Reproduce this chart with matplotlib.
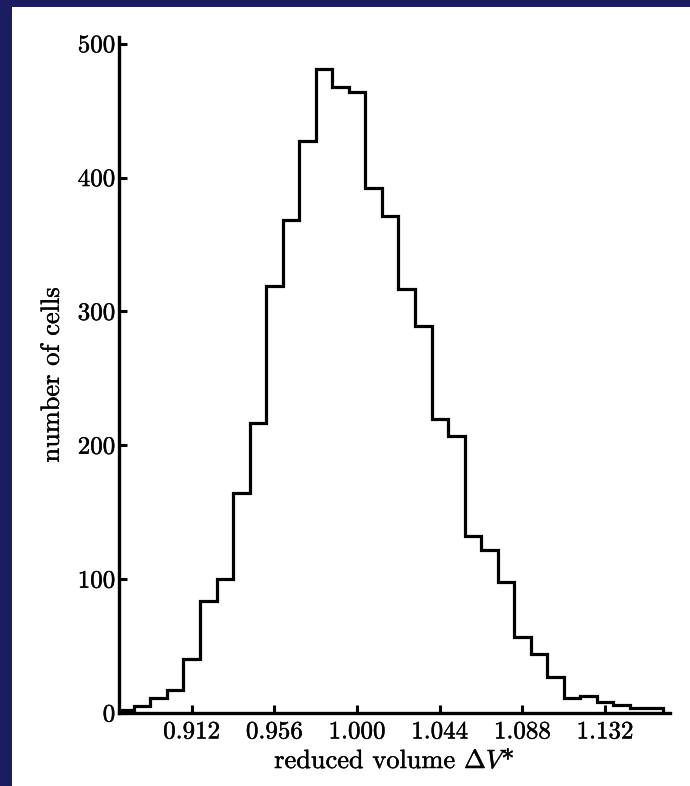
import numpy as np
import matplotlib
matplotlib.use("Agg")
import matplotlib.pyplot as plt
import matplotlib.patheffects as pe
from matplotlib.patches import Rectangle

plt.rcParams['font.family'] = ['cmr10', 'DejaVu Serif']
plt.rcParams['mathtext.fontset'] = 'cm'
plt.rcParams['axes.formatter.use_mathtext'] = True

# histogram of reduced cell volumes
bin_start = 0.8724
bin_width = 0.0088
counts = [2, 5, 11, 17, 40, 84, 100, 164, 217, 319, 368, 427, 481, 468, 464,
          392, 371, 317, 289, 220, 207, 132, 122, 98, 57, 44, 27, 11, 13, 8,
          6, 4, 3.5]
xticks = [0.912, 0.956, 1.000, 1.044, 1.088, 1.132]
xtick_labels = ["0.912", "0.956", "1.000", "1.044", "1.088", "1.132"]
yticks = [0, 100, 200, 300, 400, 500]

edges = bin_start + bin_width * np.arange(len(counts) + 1)

fig = plt.figure(figsize=(6.9, 7.86), dpi=100)
fig.patch.set_facecolor('#1b1b60')
# white page inside the dark frame
page = Rectangle((12 / 690, 0), 1 - 12 / 690, 1 - 7 / 786,
                 transform=fig.transFigure, facecolor='white',
                 edgecolor='none', zorder=-10)
fig.patches.append(page)

ax = fig.add_axes([119 / 690, 73 / 786, 551 / 690, 676 / 786])
ax.set_facecolor('none')
ax.set_zorder(1)

ax.stairs(counts, edges, color='black', linewidth=2.3, baseline=0)

ax.set_xlim(0.8733, 1.1665)
ax.set_ylim(0, 505)

for side in ['top', 'right']:
    ax.spines[side].set_visible(False)
for side in ['left', 'bottom']:
    ax.spines[side].set_linewidth(2.4)

ax.set_xticks(xticks)
ax.set_xticklabels(xtick_labels)
ax.set_yticks(yticks)
ax.tick_params(direction='in', length=6, width=2.2, labelsize=18, pad=6)
ax.tick_params(axis='y', pad=2)

ax.set_xlabel(r"reduced volume $\Delta V$*", fontsize=19, labelpad=4)
ax.set_ylabel("number of cells", fontsize=19, labelpad=10)

# printed type looks a bit heavier than cmr10
bold = [pe.withStroke(linewidth=0.3, foreground='black')]
for t in ax.get_xticklabels() + ax.get_yticklabels() + [ax.xaxis.label, ax.yaxis.label]:
    t.set_path_effects(bold)

fig.savefig("out.png", dpi=100, facecolor=fig.get_facecolor())
